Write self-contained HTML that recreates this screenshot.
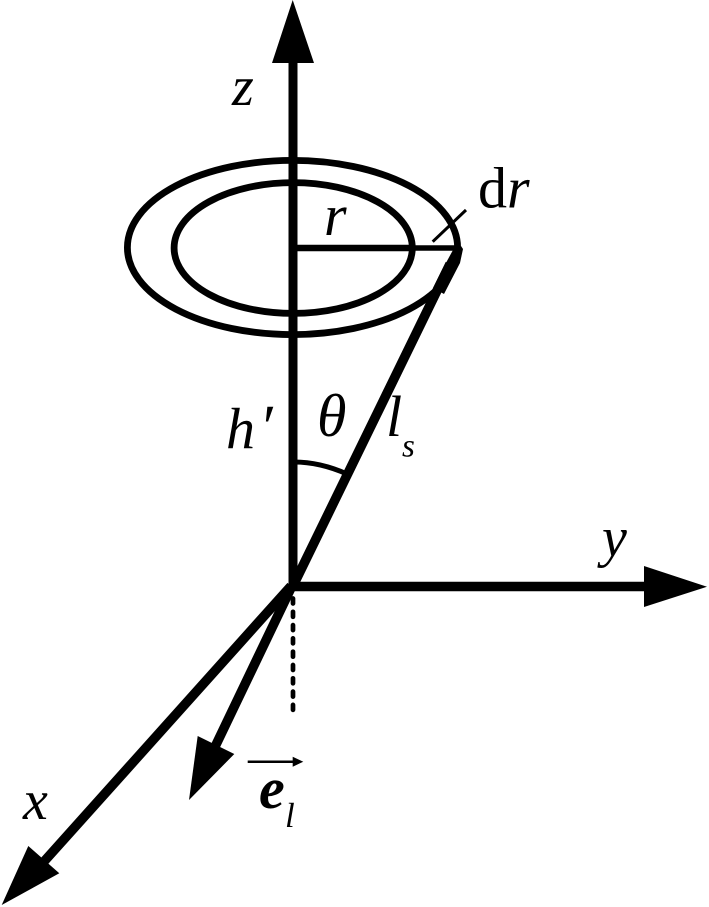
<!DOCTYPE html>
<html><head><meta charset="utf-8"><style>
html,body{margin:0;padding:0;background:#fff;width:709px;height:907px;overflow:hidden}
svg{display:block}
text{font-family:"Liberation Serif",serif;font-style:italic;fill:#000}
</style></head><body>
<svg width="709" height="907" viewBox="0 0 709 907" xmlns="http://www.w3.org/2000/svg">
<g fill="none" stroke="#000">
<line x1="293" y1="60" x2="293" y2="590" stroke-width="9"/>
<ellipse cx="292.5" cy="247.5" rx="165.1" ry="87.1" stroke-width="6.8"/>
<ellipse cx="293.2" cy="248" rx="119.1" ry="65.4" stroke-width="6.8"/>
<line x1="293" y1="248" x2="415" y2="248" stroke-width="6.5"/>
<line x1="415" y1="248" x2="460" y2="248" stroke-width="5.5"/>
<line x1="450" y1="264" x2="293" y2="586" stroke-width="9.5"/>
<line x1="293" y1="586.5" x2="650" y2="586.5" stroke-width="9.5"/>
<line x1="291" y1="586" x2="40" y2="866" stroke-width="9.5"/>
<line x1="292" y1="586" x2="213" y2="751" stroke-width="9.5"/>
<line x1="293" y1="598.5" x2="293" y2="712" stroke-width="4.7" stroke-dasharray="5 8.3" stroke-linecap="round"/>
<path d="M294 462 Q320 462 347 474" stroke-width="5"/>
<line x1="432.7" y1="241.7" x2="466" y2="210" stroke-width="3"/>
<line x1="247.7" y1="761.7" x2="295" y2="761.7" stroke-width="2.5"/>
</g>
<g fill="#000">
<polygon points="292.7,0 272,63 314,63"/>
<polygon points="707,586.7 644,566 644,607"/>
<polygon points="1.7,905 28.3,846 59.3,873.3"/>
<polygon points="189,800 197.7,736 234.3,754"/>
<polygon points="303.3,761.7 292.7,756.7 292.7,766.7"/>
<polygon points="461,246 463,249 460,263 444,294 433,288 441,272 453,250"/>
</g>
<text x="232" y="105" font-size="56">z</text>
<text x="324" y="235" font-size="58">r</text>
<text x="478" y="207.5" font-size="58" style="font-style:normal">d<tspan style="font-style:italic">r</tspan></text>
<text x="226" y="448" font-size="58">h</text>
<text x="259" y="448" font-size="62">′</text>
<text x="317" y="436" font-size="60">θ</text>
<text x="386" y="436" font-size="58">l</text>
<text x="402" y="456.7" font-size="33">s</text>
<text x="602" y="556" font-size="56">y</text>
<text x="23" y="819" font-size="56">x</text>
<text x="259" y="808" font-size="58" font-weight="bold">e</text>
<text x="285" y="827" font-size="35">l</text>
</svg>
</body></html>
